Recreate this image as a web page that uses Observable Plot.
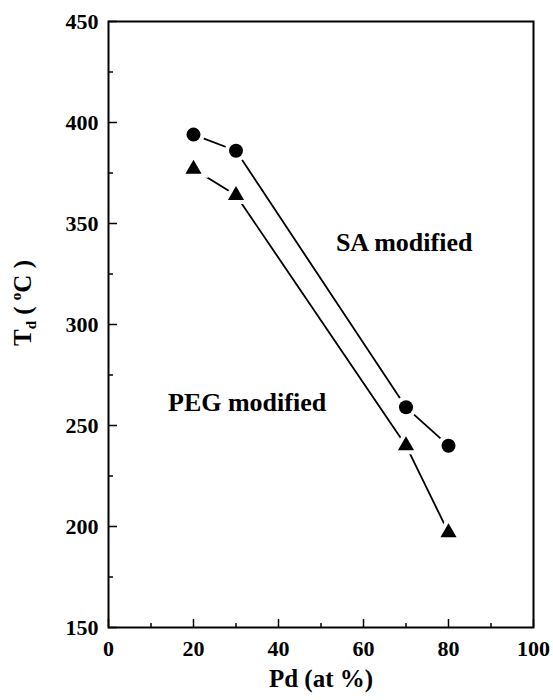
<!DOCTYPE html>
<html><head><meta charset="utf-8">
<script src="https://cdn.jsdelivr.net/npm/d3@7"></script>
<script src="https://cdn.jsdelivr.net/npm/@observablehq/plot@0.6"></script>
<style>body{margin:0;background:#fff} svg text{font-family:"Liberation Serif","Times New Roman",serif;font-weight:bold}</style>
</head><body><div id="chart"></div>
<script>
// Data
const pd = [20, 30, 70, 80];
const saModified = [394, 386, 259, 240];
const pegModified = [377, 364, 240, 197];
const xTicks = [0, 20, 40, 60, 80, 100];
const xMinor = [10, 30, 50, 70, 90];
const yTicks = [150, 200, 250, 300, 350, 400, 450];
const yMinor = [175, 225, 275, 325, 375, 425];
const seriesNames = ["SA modified", "PEG modified"];
const nameX = [53.5, 14];
const nameY = [340.6, 261.4];

const sa = pd.map((x, i) => ({x, y: saModified[i]}));
const peg = pd.map((x, i) => ({x, y: pegModified[i]}));
const names = seriesNames.map((t, i) => ({t, x: nameX[i], y: nameY[i]}));

const font = "Liberation Serif";
const txt = {fontFamily: font, fontWeight: "bold", fill: "black"};

const chart = Plot.plot({
  width: 553, height: 700,
  marginLeft: 108, marginRight: 20, marginTop: 21, marginBottom: 73,
  x: {domain: [0, 100]},
  y: {domain: [150, 450]},
  style: {fontFamily: font, fontWeight: "bold", color: "black", background: "white"},
  marks: [
    Plot.frame({stroke: "black", strokeWidth: 2}),
    Plot.axisX({ticks: xTicks, tickSize: 0, tickPadding: 13, fontSize: 22, label: null, ...txt}),
    Plot.axisX({ticks: xTicks, tickSize: -8, strokeWidth: 1.5, fill: "none", label: null}),
    Plot.axisX({ticks: xMinor, tickSize: -4, strokeWidth: 1.5, fill: "none", label: null}),
    Plot.axisY({ticks: yTicks, tickSize: 0, tickPadding: 10, fontSize: 22, label: null, ...txt}),
    Plot.axisY({ticks: yTicks, tickSize: -9, strokeWidth: 1.5, fill: "none", label: null}),
    Plot.axisY({ticks: yMinor, tickSize: -5, strokeWidth: 1.5, fill: "none", label: null}),
    Plot.text(["Pd (at %)"], {frameAnchor: "bottom", dy: 59, fontSize: 25, ...txt}),
    Plot.line(sa, {x: "x", y: "y", stroke: "black", strokeWidth: 1.8}),
    Plot.line(peg, {x: "x", y: "y", stroke: "black", strokeWidth: 1.8}),
    Plot.dot(sa, {x: "x", y: "y", r: 7, symbol: "circle", fill: "white", stroke: "white", strokeWidth: 8}),
    Plot.dot(peg, {x: "x", y: "y", r: 6, symbol: "triangle", fill: "white", stroke: "white", strokeWidth: 8}),
    Plot.dot(sa, {x: "x", y: "y", r: 7, symbol: "circle", fill: "black"}),
    Plot.dot(peg, {x: "x", y: "y", r: 6, symbol: "triangle", fill: "black"}),
    Plot.text(names, {x: "x", y: "y", text: "t", textAnchor: "start", fontSize: 26, ...txt})
  ]
});

const svg = d3.select(chart);
const t = svg.append("text")
  .attr("transform", "translate(31,303) rotate(-90)")
  .attr("text-anchor", "middle")
  .attr("font-family", font)
  .attr("font-weight", "bold")
  .attr("font-size", 25)
  .attr("fill", "black");
t.append("tspan").text("T");
t.append("tspan").attr("font-size", 15).attr("dy", 5).text("d");
t.append("tspan").attr("dy", -5).text(" ( ");
t.append("tspan").attr("font-size", 15).attr("dy", -10).text("o");
t.append("tspan").attr("dy", 10).text("C )");

document.getElementById("chart").appendChild(chart);
</script>
</body></html>
